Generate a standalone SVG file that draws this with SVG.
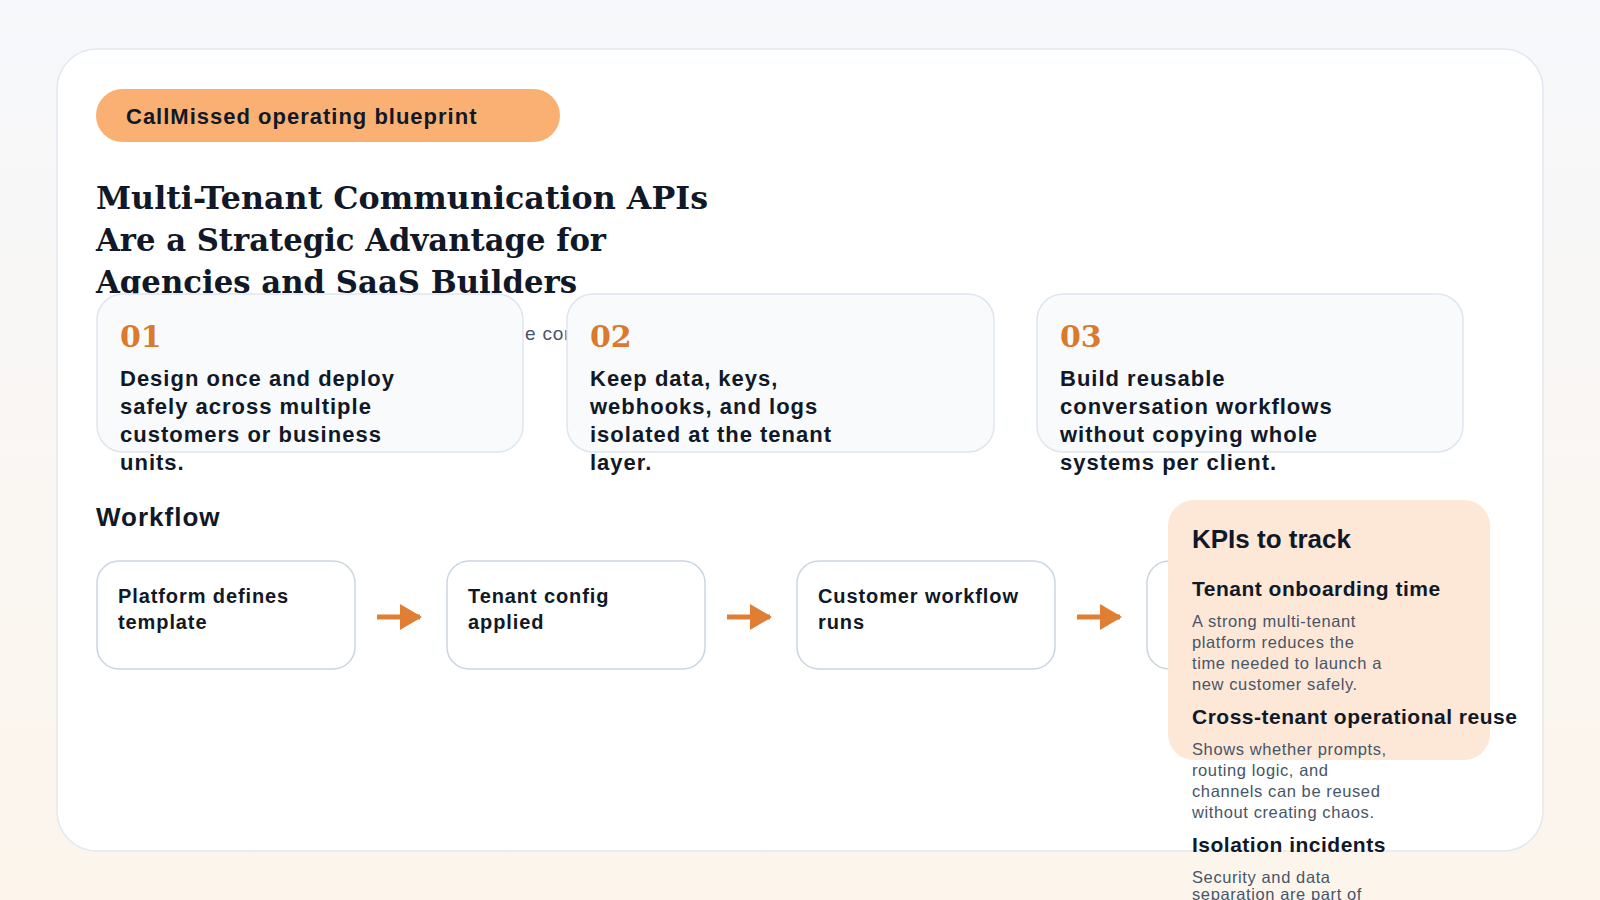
<svg xmlns="http://www.w3.org/2000/svg" width="1600" height="900" viewBox="0 0 1600 900">
<defs>
<linearGradient id="bg" x1="0" y1="0" x2="0" y2="1"><stop offset="0" stop-color="#f6f8fb"/><stop offset="1" stop-color="#fdf5ec"/></linearGradient>
<marker id="ah" markerWidth="22" markerHeight="26" refX="20" refY="13" orient="auto" markerUnits="userSpaceOnUse" viewBox="0 0 22 26"><path d="M0,0 L22,13 L0,26 z" fill="#e07f33"/></marker>
<style>
.sans{font-family:"Liberation Sans",Arial,sans-serif}
.serif{font-family:"DejaVu Serif","Liberation Serif",serif;font-weight:bold}
.card{fill:#f8fafc;stroke:#dfe6ef;stroke-width:1.5}
.wf{fill:#fff;stroke:#cbd5e1;stroke-width:1.5}
.num{fill:#d97a2e;font-size:30px}
.body{fill:#111827;font-size:22px;font-weight:bold;letter-spacing:1px}
.wt{fill:#111827;font-size:20px;font-weight:bold;letter-spacing:0.9px}
.kh{fill:#111827;font-size:21px;font-weight:bold;letter-spacing:0.5px}
.kd{fill:#475569;font-size:16.5px;letter-spacing:0.6px}
.conn{stroke:#e07f33;stroke-width:5;fill:none}
</style>
</defs>
<rect width="1600" height="900" fill="url(#bg)"/>
<rect x="57" y="49" width="1486" height="802" rx="40" fill="#fff" stroke="#e2e8f0" stroke-width="1.5"/>
<g id="badge"><rect x="96" y="89" width="464" height="53" rx="26.5" fill="#fbb073"/>
<text x="126" y="124" class="sans" font-size="22" font-weight="bold" fill="#111827" letter-spacing="1">CallMissed operating blueprint</text></g>
<g id="title" class="serif" font-size="32" fill="#111827">
<text x="96" y="209" textLength="612" lengthAdjust="spacingAndGlyphs">Multi-Tenant Communication APIs</text>
<text x="96" y="251" textLength="510" lengthAdjust="spacingAndGlyphs">Are a Strategic Advantage for</text>
<text x="96" y="293" textLength="481" lengthAdjust="spacingAndGlyphs">Agencies and SaaS Builders</text>
</g>
<text x="525" y="340" class="sans" font-size="19" fill="#475569" letter-spacing="0.8">e com</text>
<g id="card1"><rect class="card" x="97" y="294" width="426" height="158" rx="26"/>
<text x="120" y="347" class="serif num">01</text>
<text class="sans body"><tspan x="120" y="386">Design once and deploy</tspan><tspan x="120" y="414">safely across multiple</tspan><tspan x="120" y="442">customers or business</tspan><tspan x="120" y="470">units.</tspan></text></g>
<g id="card2"><rect class="card" x="567" y="294" width="427" height="158" rx="26"/>
<text x="590" y="347" class="serif num">02</text>
<text class="sans body"><tspan x="590" y="386">Keep data, keys,</tspan><tspan x="590" y="414">webhooks, and logs</tspan><tspan x="590" y="442">isolated at the tenant</tspan><tspan x="590" y="470">layer.</tspan></text></g>
<g id="card3"><rect class="card" x="1037" y="294" width="426" height="158" rx="26"/>
<text x="1060" y="347" class="serif num">03</text>
<text class="sans body"><tspan x="1060" y="386">Build reusable</tspan><tspan x="1060" y="414">conversation workflows</tspan><tspan x="1060" y="442">without copying whole</tspan><tspan x="1060" y="470">systems per client.</tspan></text></g>
<text x="96" y="526" class="sans" font-size="26" font-weight="bold" fill="#111827" letter-spacing="1">Workflow</text>
<g id="wf1"><rect class="wf" x="97" y="561" width="258" height="108" rx="22"/>
<text class="sans wt"><tspan x="118" y="603">Platform defines</tspan><tspan x="118" y="629">template</tspan></text></g>
<g id="wf2"><rect class="wf" x="447" y="561" width="258" height="108" rx="22"/>
<text class="sans wt"><tspan x="468" y="603">Tenant config</tspan><tspan x="468" y="629">applied</tspan></text></g>
<g id="wf3"><rect class="wf" x="797" y="561" width="258" height="108" rx="22"/>
<text class="sans wt"><tspan x="818" y="603">Customer workflow</tspan><tspan x="818" y="629">runs</tspan></text></g>
<g id="wf4"><rect class="wf" x="1147" y="561" width="258" height="108" rx="22"/></g>
<g id="connectors">
<line class="conn" x1="377" y1="617" x2="420" y2="617" marker-end="url(#ah)"/>
<line class="conn" x1="727" y1="617" x2="770" y2="617" marker-end="url(#ah)"/>
<line class="conn" x1="1077" y1="617" x2="1120" y2="617" marker-end="url(#ah)"/>
</g>
<g id="kpi"><rect x="1168" y="500" width="322" height="260" rx="26" fill="#fde8d8"/>
<text x="1192" y="548" class="sans" font-size="26" font-weight="bold" fill="#111827">KPIs to track</text>
<text x="1192" y="596" class="sans kh">Tenant onboarding time</text>
<text class="sans kd"><tspan x="1192" y="627">A strong multi-tenant</tspan><tspan x="1192" y="648">platform reduces the</tspan><tspan x="1192" y="669">time needed to launch a</tspan><tspan x="1192" y="690">new customer safely.</tspan></text>
<text x="1192" y="724" class="sans kh">Cross-tenant operational reuse</text>
<text class="sans kd"><tspan x="1192" y="755">Shows whether prompts,</tspan><tspan x="1192" y="776">routing logic, and</tspan><tspan x="1192" y="797">channels can be reused</tspan><tspan x="1192" y="818">without creating chaos.</tspan></text>
<text x="1192" y="852" class="sans kh">Isolation incidents</text>
<text class="sans kd"><tspan x="1192" y="883">Security and data</tspan><tspan x="1192" y="900">separation are part of</tspan></text>
</g>
</svg>
